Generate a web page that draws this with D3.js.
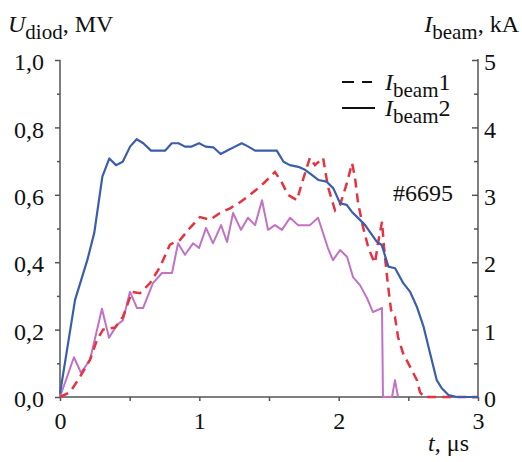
<!DOCTYPE html>
<html>
<head>
<meta charset="utf-8">
<script src="https://cdn.jsdelivr.net/npm/d3@7"></script>
<style>
  body { margin: 0; background: #fff; }
  .axis path, .axis line { stroke: #555; stroke-width: 1.5; }
</style>
</head>
<body>
<svg id="chart" width="522" height="462"></svg>
<script>
// time axis, us
var timeTicks = [0, 0.5, 1, 1.5, 2, 2.5, 3];
var timeLabels = [0, 1, 2, 3];
var voltTicks = [0, 0.1, 0.2, 0.3, 0.4, 0.5, 0.6, 0.7, 0.8, 0.9, 1.0];
var voltLabels = [0, 0.2, 0.4, 0.6, 0.8, 1.0];
var currTicks = [0, 0.5, 1, 1.5, 2, 2.5, 3, 3.5, 4, 4.5, 5];
var currLabels = [0, 1, 2, 3, 4, 5];

// U_diod (MV), blue
var uDiodT = [0, 0.108, 0.196, 0.246, 0.304, 0.354, 0.402, 0.45, 0.503, 0.55, 0.598, 0.653, 0.754, 0.802, 0.85, 0.897, 0.945, 0.998, 1.045, 1.1, 1.153, 1.208, 1.256, 1.304, 1.352, 1.4, 1.556, 1.604, 1.65, 1.71, 1.759, 1.807, 1.854, 1.914, 1.962, 2.01, 2.058, 2.094, 2.142, 2.19, 2.273, 2.309, 2.357, 2.405, 2.465, 2.513, 2.561, 2.609, 2.656, 2.704, 2.74, 2.788, 2.85, 3.0];
var uDiodV = [0.01, 0.288, 0.406, 0.487, 0.654, 0.708, 0.688, 0.698, 0.743, 0.765, 0.753, 0.731, 0.731, 0.753, 0.753, 0.743, 0.743, 0.753, 0.743, 0.741, 0.721, 0.733, 0.743, 0.753, 0.743, 0.731, 0.731, 0.698, 0.688, 0.683, 0.674, 0.659, 0.644, 0.639, 0.619, 0.575, 0.57, 0.55, 0.53, 0.51, 0.461, 0.451, 0.387, 0.382, 0.337, 0.312, 0.268, 0.209, 0.13, 0.05, 0.026, 0.006, 0, 0];

// I_beam1 (kA), red dashed
var beam1T = [0, 0.072, 0.144, 0.215, 0.266, 0.309, 0.395, 0.452, 0.517, 0.574, 0.646, 0.718, 0.789, 0.861, 0.933, 1.005, 1.077, 1.148, 1.22, 1.292, 1.364, 1.435, 1.471, 1.543, 1.593, 1.636, 1.701, 1.737, 1.794, 1.83, 1.888, 1.923, 1.974, 2.01, 2.06, 2.096, 2.117, 2.139, 2.175, 2.211, 2.239, 2.261, 2.282, 2.311, 2.325, 2.34, 2.354, 2.376, 2.404, 2.426, 2.462, 2.512, 2.562, 2.584, 2.612, 3.0];
var beam1I = [0, 0.07, 0.3, 0.55, 0.85, 1.0, 1.03, 1.19, 1.56, 1.54, 1.69, 1.93, 2.26, 2.33, 2.51, 2.67, 2.63, 2.73, 2.8, 2.89, 3.0, 3.12, 3.19, 3.34, 3.18, 3.0, 2.92, 3.18, 3.55, 3.44, 3.55, 3.12, 2.77, 2.85, 3.18, 3.47, 3.26, 2.88, 2.52, 2.23, 2.08, 1.99, 2.28, 2.6, 2.23, 1.93, 1.66, 1.29, 1.19, 0.89, 0.65, 0.45, 0.25, 0.07, 0, 0];

// I_beam2 (kA), pink solid
var beam2T = [0, 0.1, 0.151, 0.215, 0.301, 0.352, 0.409, 0.452, 0.502, 0.553, 0.596, 0.667, 0.732, 0.804, 0.847, 0.897, 0.955, 0.998, 1.048, 1.098, 1.156, 1.199, 1.242, 1.299, 1.349, 1.4, 1.45, 1.493, 1.543, 1.593, 1.651, 1.708, 1.794, 1.852, 1.923, 1.959, 2.01, 2.06, 2.103, 2.153, 2.203, 2.246, 2.311, 2.318, 2.383, 2.404, 2.426];
var beam2I = [0, 0.59, 0.36, 0.55, 1.31, 0.88, 1.07, 1.14, 1.56, 1.32, 1.32, 1.69, 1.84, 1.84, 2.28, 2.11, 2.28, 2.21, 2.51, 2.28, 2.55, 2.3, 2.73, 2.48, 2.66, 2.55, 2.92, 2.48, 2.55, 2.48, 2.66, 2.55, 2.55, 2.66, 2.21, 2.03, 2.18, 2.08, 1.78, 1.66, 1.47, 1.26, 1.32, 0, 0, 0.25, 0];

var svg = d3.select("#chart");

var x = d3.scaleLinear().domain([0, 3]).range([60, 478]);
var yL = d3.scaleLinear().domain([0, 1]).range([397, 60]);
var yR = d3.scaleLinear().domain([0, 5]).range([397, 60]);

function isLabel(list, d) {
  return list.some(function(v) { return Math.abs(v - d) < 1e-9; });
}

// axes: major ticks with labels, minor ticks without
var xAxis = svg.append("g").attr("class", "axis")
   .attr("transform", "translate(0,397)")
   .call(d3.axisBottom(x).tickValues(timeTicks).tickSize(4).tickPadding(11)
     .tickFormat(function(d) { return isLabel(timeLabels, d) ? d : ""; }));
xAxis.select(".domain").attr("d", "M60,0H478");

var leftAxis = svg.append("g").attr("class", "axis")
   .attr("transform", "translate(60,0)")
   .call(d3.axisLeft(yL).tickValues(voltTicks).tickSize(5).tickPadding(11)
     .tickFormat(function(d) { return isLabel(voltLabels, d) ? d3.format(".1f")(d).replace(".", ",") : ""; }));
leftAxis.select(".domain").attr("d", "M0,397V60");
leftAxis.selectAll(".tick line").attr("x2", function(d) { return isLabel(voltLabels, d) ? -5 : -3; });

var rightAxis = svg.append("g").attr("class", "axis")
   .attr("transform", "translate(478,0)")
   .call(d3.axisRight(yR).tickValues(currTicks).tickSizeInner(-6).tickSizeOuter(0).tickPadding(6)
     .tickFormat(function(d) { return isLabel(currLabels, d) ? d : ""; }));
rightAxis.select(".domain").attr("d", "M0,397V59");
rightAxis.selectAll(".tick line").attr("x2", function(d) { return isLabel(currLabels, d) ? -6 : -4; });

svg.selectAll(".axis").attr("font-family", null).attr("font-size", null);
leftAxis.selectAll("text").attr("dy", "0.4em");
rightAxis.selectAll("text").attr("dy", "0.4em");

// curves
var lineL = d3.line().x(function(d) { return x(d[0]); }).y(function(d) { return yL(d[1]); });
var lineR = d3.line().x(function(d) { return x(d[0]); }).y(function(d) { return yR(d[1]); });

svg.append("path")
   .datum(d3.zip(beam2T, beam2I))
   .attr("fill", "none").attr("stroke", "#c271c4").attr("stroke-width", 2)
   .attr("stroke-linejoin", "round")
   .attr("d", lineR);

svg.append("path")
   .datum(d3.zip(beam1T, beam1I))
   .attr("fill", "none").attr("stroke", "#e5333f").attr("stroke-width", 2.5)
   .attr("stroke-dasharray", "9,6")
   .attr("d", lineR);

svg.append("path")
   .datum(d3.zip(uDiodT, uDiodV))
   .attr("fill", "none").attr("stroke", "#3a5eab").attr("stroke-width", 2.2)
   .attr("stroke-linejoin", "round")
   .attr("d", lineL);

// axis titles
var tl = svg.append("text").attr("x", 8).attr("y", 32);
tl.append("tspan").style("font-style", "italic").text("U");
tl.append("tspan").attr("dy", 7).style("font-size", "21px").text("diod");
tl.append("tspan").attr("dy", -7).text(", MV");

var tr = svg.append("text").attr("x", 519).attr("y", 32).attr("text-anchor", "end");
tr.append("tspan").style("font-style", "italic").text("I");
tr.append("tspan").attr("dy", 7).style("font-size", "21px").text("beam");
tr.append("tspan").attr("dy", -7).text(", kA");

var tx = svg.append("text").attr("x", 469).attr("y", 451).attr("text-anchor", "end");
tx.append("tspan").style("font-style", "italic").text("t");
tx.append("tspan").text(", \u03bcs");

// legend
svg.append("line").attr("x1", 342).attr("x2", 372).attr("y1", 82).attr("y2", 82)
   .attr("stroke", "#111").attr("stroke-width", 2).attr("stroke-dasharray", "12,8");
svg.append("line").attr("x1", 342).attr("x2", 375).attr("y1", 108).attr("y2", 108)
   .attr("stroke", "#111").attr("stroke-width", 2);

[["1", 90], ["2", 116]].forEach(function(r) {
  var t = svg.append("text").attr("x", 385).attr("y", r[1]);
  t.append("tspan").style("font-style", "italic").text("I");
  t.append("tspan").attr("dy", 7).style("font-size", "21px").text("beam");
  t.append("tspan").attr("dy", -7).text(r[0]);
});

svg.append("text").attr("x", 393).attr("y", 201).text("#6695");

// serif type everywhere
svg.selectAll("text")
   .style("font-family", "'Liberation Serif'")
   .style("fill", "#111");
svg.selectAll("text").filter(function() { return !this.style.fontSize; }).style("font-size", "24px");
</script>
</body>
</html>
